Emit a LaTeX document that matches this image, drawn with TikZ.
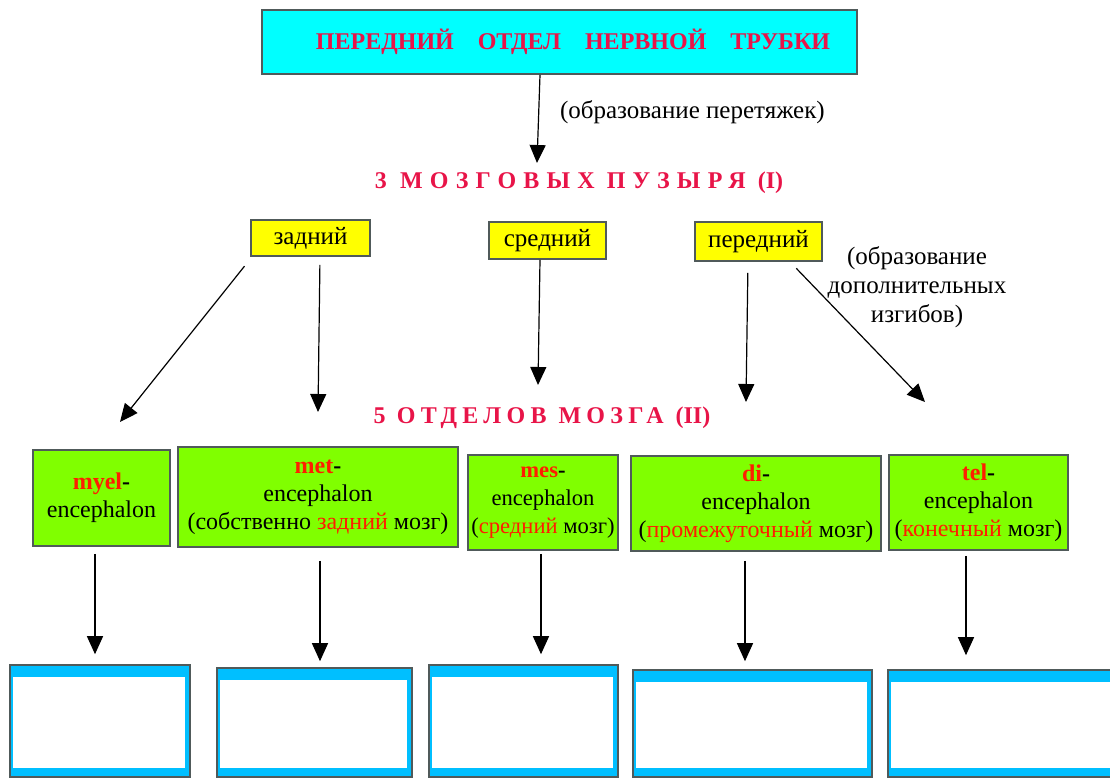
\documentclass[tikz,border=0pt]{standalone}
\usepackage{fontspec}
\setmainfont{Liberation Serif}
\usetikzlibrary{arrows.meta}
\definecolor{titred}{RGB}{232,20,72}
\definecolor{pfxred}{RGB}{255,30,0}
\definecolor{cyanbox}{RGB}{0,255,255}
\definecolor{greenbox}{RGB}{128,255,0}
\definecolor{yelbox}{RGB}{255,255,0}
\definecolor{bluebd}{RGB}{0,191,255}
\definecolor{edgecol}{RGB}{80,90,90}
\newcommand{\pfx}[1]{\textcolor{pfxred}{\bfseries #1}\textbf{-}}
\newcommand{\rd}[1]{\textcolor{pfxred}{#1}}
\begin{document}
\begin{tikzpicture}[x=0.5pt,y=-0.5pt,
  box/.style={draw=edgecol, line width=0.8pt, inner sep=0pt, align=center, font=\fontsize{12}{14}\selectfont},
  gbox/.style={box, fill=greenbox},
  ybox/.style={box, fill=yelbox, font=\fontsize{12.5}{14}\selectfont},
  bbox/.style={draw=edgecol, line width=0.8pt, fill=bluebd, inner sep=0pt},
  arr/.style={-{Triangle[length=9pt,width=8pt]}, line width=0.6pt},
  ttl/.style={text=titred, font=\fontsize{12}{14}\selectfont\bfseries},
  note/.style={font=\fontsize{12.5}{14.5}\selectfont, align=center},
]
\useasboundingbox (0,0) rectangle (1110,778);
\clip (0,0) rectangle (1110,778);

% top
\node[box, fill=cyanbox, minimum width=297.5pt, minimum height=32pt] (top) at (559.5,42)
  {\hspace*{13.5pt}\textcolor{titred}{\fontsize{12}{14}\selectfont\bfseries ПЕРЕДНИЙ\quad ОТДЕЛ\quad НЕРВНОЙ\quad ТРУБКИ}};
\node[note, anchor=west] (n1) at (553,112) {(образование перетяжек)};
\node[ttl] (t3) at (579,183) {{\addfontfeature{LetterSpace=30}3 МОЗГОВЫХ\enspace ПУЗЫРЯ}\enspace(I)};

% yellow
\node[ybox, minimum width=59.5pt, minimum height=18pt] (zad) at (310.5,238) {задний};
\node[ybox, minimum width=58.5pt, minimum height=18.5pt] (sred) at (547.5,240.5) {средний};
\node[ybox, minimum width=63.5pt, minimum height=19.5pt] (pered) at (758.5,241.5) {передний};
\node[note] (n2) at (917,287) {(образование\\дополнительных\\изгибов)};

\node[ttl] (t5) at (542,418) {{\addfontfeature{LetterSpace=22}5 ОТДЕЛОВ\enspace МОЗГА}\enspace(II)};

% green
\node[gbox, minimum width=68.5pt, minimum height=48pt] (myel) at (101.5,498) {\pfx{myel}\\encephalon};
\node[gbox, minimum width=140pt, minimum height=50pt] (met) at (318,497) {\pfx{met}\\encephalon\\(собственно \rd{задний} мозг)};
\node[gbox, minimum width=75pt, minimum height=47.5pt, font=\fontsize{11.3}{14}\selectfont] (mes) at (543,502.5) {\pfx{mes}\\encephalon\\(\rd{средний} мозг)};
\node[gbox, minimum width=125pt, minimum height=47.5pt] (di) at (756,503.5) {\pfx{di}\\encephalon\\(\rd{промежуточный} мозг)};
\node[gbox, minimum width=89.5pt, minimum height=47.5pt] (tel) at (978.5,502.5) {\pfx{tel}\\encephalon\\(\rd{конечный} мозг)};

% blue
\node[bbox, minimum width=90pt, minimum height=56pt] (b1) at (100,721) {};
\node[bbox, minimum width=97.5pt, minimum height=54.5pt] (b2) at (314.5,722.5) {};
\node[bbox, minimum width=94.5pt, minimum height=56pt] (b3) at (523.5,721) {};
\node[bbox, minimum width=119.5pt, minimum height=53.5pt] (b4) at (752.5,723.5) {};
\node[bbox, minimum width=118.5pt, minimum height=53.5pt] (b5) at (1006.5,723.5) {};
\foreach \b in {b1,b2,b3,b4,b5}
  \fill[white] ([xshift=2pt,yshift=-6.5pt]\b.north west) rectangle ([xshift=-3pt,yshift=5pt]\b.south east);

% coordinates for free ends
\coordinate (e1) at (120,422);
\coordinate (e2) at (318,412);
\coordinate (e3) at (538,385);
\coordinate (e4) at (746,402);
\coordinate (e5) at (925,402);

% arrows
\draw[arr] (top.south -| 540,0) -- (537,163);
\draw[arr, shorten <=6pt] (zad.south -| 252,0) -- (e1);
\draw[arr, shorten <=4pt] (zad.south -| 320,0) -- (e2);
\draw[arr] (sred.south -| 540,0) -- (e3);
\draw[arr, shorten <=5.5pt] (pered.south -| 748,0) -- (e4);
\draw[arr, shorten <=4.5pt] (pered.south -| 790,0) -- (e5);

\draw[arr, shorten <=3.5pt, shorten >=5pt] (myel.south -| 95,0) -- (b1.north -| 95,0);
\draw[arr, shorten <=6.5pt, shorten >=3pt] (met.south -| 320,0) -- (b2.north -| 320,0);
\draw[arr, shorten <=1.5pt, shorten >=5pt] (mes.south -| 541,0) -- (b3.north -| 541,0);
\draw[arr, shorten <=4.5pt, shorten >=4pt] (di.south -| 745,0) -- (b4.north -| 745,0);
\draw[arr, shorten <=2.5pt, shorten >=7pt] (tel.south -| 966,0) -- (b5.north -| 966,0);
\end{tikzpicture}
\end{document}
